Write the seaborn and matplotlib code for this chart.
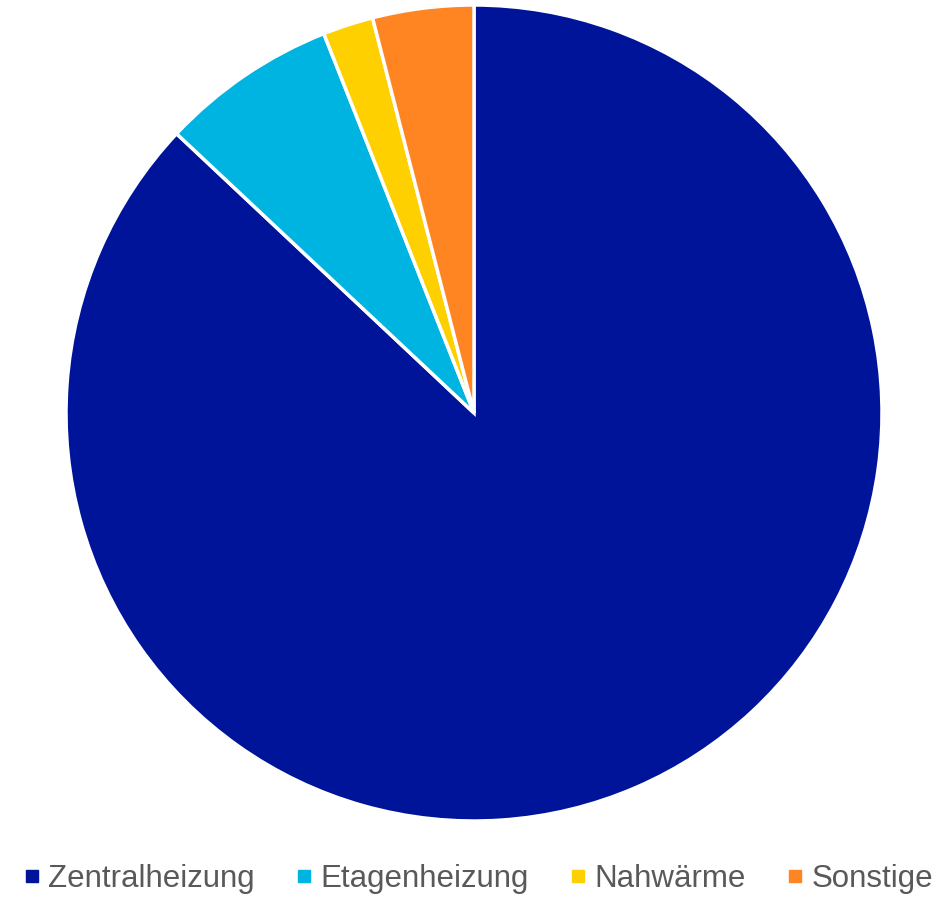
import matplotlib
matplotlib.use("Agg")
import matplotlib.pyplot as plt
from matplotlib.lines import Line2D
import seaborn as sns

categories = ["Zentralheizung", "Etagenheizung", "Nahwärme", "Sonstige"]
shares = [87.0, 7.0, 2.0, 4.0]
colors = ["#00149A", "#00B4E2", "#FFD000", "#FF8522"]

sns.set_theme(style="white")
plt.rcParams["font.family"] = ["Liberation Sans", "DejaVu Sans"]

W, H = 949, 899
fig = plt.figure(figsize=(W / 100, H / 100), dpi=100)
fig.patch.set_facecolor("white")

cx, cy, r = 474, 413, 408
ax = fig.add_axes([(cx - r) / W, (H - cy - r) / H, 2 * r / W, 2 * r / H])
ax.pie(shares, colors=colors, startangle=90, counterclock=False, radius=1,
       wedgeprops=dict(edgecolor="white", linewidth=2.5))
ax.set_xlim(-1, 1)
ax.set_ylim(-1, 1)
ax.set_aspect("equal")
ax.axis("off")

handles = [Line2D([], [], marker="s", linestyle="none", markersize=8.5,
                  markerfacecolor=c, markeredgecolor=c) for c in colors]
fig.legend(handles, categories, loc="center", bbox_to_anchor=(479 / W, 1 - 879 / H),
           ncol=4, frameon=False, fontsize=22.5, labelcolor="#595959",
           handlelength=0.45, handletextpad=0.3, columnspacing=1.35,
           borderaxespad=0)

fig.savefig("out.png", dpi=100, facecolor="white")
